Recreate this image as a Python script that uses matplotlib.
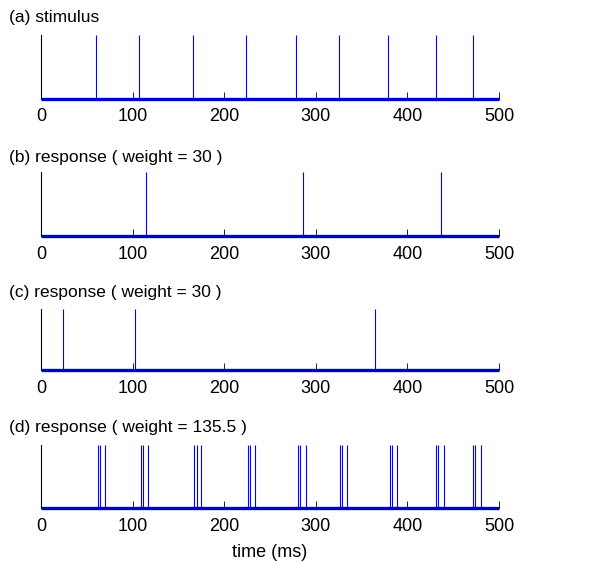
import numpy as np
import matplotlib.pyplot as plt

plt.rcParams["font.family"] = ["Liberation Sans", "DejaVu Sans"]

# spike times (ms)
stimulus = [60.4, 107.0, 166.3, 223.8, 278.7, 325.3, 378.4, 430.8, 471.5]
resp_b = [114.3, 285.7, 436.7]
resp_c = [24.4, 102.6, 364.9]
resp_d = [61.9, 64.4, 69.5, 108.8, 111.0, 116.8, 167.4, 170.0, 175.0,
          225.6, 227.8, 233.6, 280.3, 282.8, 289.0, 326.4, 328.6, 334.1,
          380.7, 382.9, 388.6, 431.6, 433.8, 439.7, 471.9, 474.1, 480.0]

titles = ["(a) stimulus",
          "(b) response ( weight = 30 )",
          "(c) response ( weight = 30 )",
          "(d) response ( weight = 135.5 )"]
trains = [stimulus, resp_b, resp_c, resp_d]

t_window = [0, 500]
xticks = [0, 100, 200, 300, 400, 500]

# axes boxes in figure fractions [left, bottom, width, height]
boxes = [[0.069, 0.8244, 0.771, 0.1133],
         [0.069, 0.5801, 0.771, 0.1144],
         [0.069, 0.3416, 0.771, 0.1080],
         [0.069, 0.0961, 0.771, 0.1121]]
title_y = [17.5, 157.5, 293, 427.5]

fig = plt.figure(figsize=(5.94, 5.62), dpi=100)

for box, spikes, title, ty in zip(boxes, trains, titles, title_y):
    ax = fig.add_axes(box)
    ax.vlines(spikes, 0, 1, color=(0, 0, 1), lw=0.8)
    ax.hlines(0, t_window[0], t_window[1], color=(0, 0, 0.8), lw=2.4,
              clip_on=False, zorder=5)
    ax.set_xlim(t_window)
    ax.set_ylim(0, 1)
    ax.set_xticks(xticks)
    ax.set_yticks([])
    ax.tick_params(axis="x", direction="in", length=5, width=0.6,
                   pad=7, labelsize=13)
    for side in ["top", "right"]:
        ax.spines[side].set_visible(False)
    ax.spines["left"].set_linewidth(0.8)
    ax.spines["bottom"].set_linewidth(0.6)
    fig.text(9 / 594, 1 - ty / 562, title, fontsize=12.5, va="center", ha="left")

ax.set_xlabel("time (ms)", fontsize=13, labelpad=7)

plt.savefig("out.png", dpi=100)
